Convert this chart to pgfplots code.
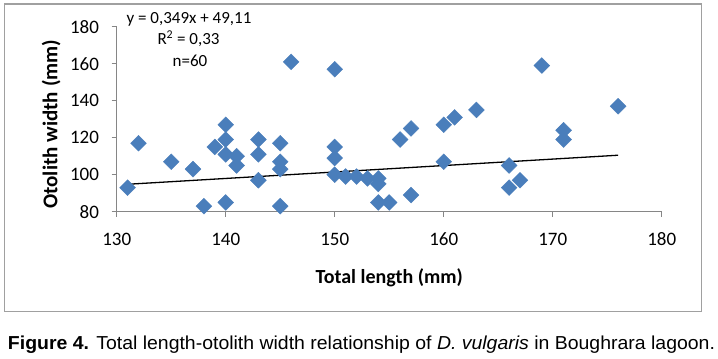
\documentclass[border=0pt]{standalone}
\usepackage{pgfplots}
\pgfplotsset{compat=1.18}
\usepackage{graphicx}
\usepackage{fontspec}
\setmainfont{Carlito}
\newfontfamily\capfont{Liberation Sans}
\definecolor{excelblue}{HTML}{4A7EBB}
\definecolor{axisgray}{HTML}{868686}
\definecolor{boxgray}{HTML}{A0A0A0}
\begin{document}
\begin{tikzpicture}[x=1bp,y=1bp]
\useasboundingbox (0,0) rectangle (718,358);
\fill[white] (0,0) rectangle (718,358);
\draw[boxgray, line width=1.2bp] (4.5,354) rectangle (701.5,46.5);
\begin{axis}[
  at={(116.7bp,146.3bp)}, anchor=south west,
  scale only axis, width=545bp, height=185bp,
  xmin=130, xmax=180, ymin=80, ymax=180,
  xtick={130,140,150,160,170,180}, ytick={80,100,120,140,160,180},
  axis x line*=bottom, axis y line*=left,
  axis line style={axisgray, line width=0.9bp, -},
  tick style={axisgray, line width=0.9bp},
  tick align=outside, major tick length=5bp,
  /pgf/number format/assume math mode=true,
  ticklabel style={font=\fontsize{19bp}{21bp}\selectfont, text=black, inner sep=0pt},
  xticklabel style={anchor=base, yshift=-29bp},
  yticklabel style={anchor=east, xshift=-12.5bp},
  xlabel={Total length (mm)},
  ylabel={Otolith width (mm)},
  xlabel style={at={(axis description cs:0.5,0)}, anchor=base, yshift=-71.3bp, inner sep=0pt, font=\fontsize{20bp}{22bp}\selectfont\bfseries},
  ylabel style={at={([xshift=-59.4bp,yshift=-5bp]axis description cs:0,0.5)}, rotate=0, anchor=base, inner sep=0pt, font=\fontsize{21bp}{23bp}\selectfont\bfseries},
]
\addplot[only marks, mark=square*, mark size=5.6bp, mark options={fill=excelblue, draw=excelblue, rotate=45}] coordinates {
(131,93) (132,117) (135,107) (137,103) (138,83) (139,115)
(140,127) (140,119) (140,111) (140,85) (141,110) (141,105)
(143,119) (143,111) (143,97) (145,117) (145,107) (145,103) (145,83)
(146,161) (150,157) (150,115) (150,109) (150,100) (151,99) (152,99)
(153,98) (154,98) (154,95) (154,85) (155,85) (156,119) (157,125) (157,89)
(160,107) (160,127) (161,131) (163,135) (166,105) (166,93) (167,97)
(169,159) (171,124) (171,119) (176,137)
};
\addplot[black, line width=1.3bp, no markers] coordinates {(131,94.83) (176,110.53)};
\end{axis}
\node[anchor=base, inner sep=0pt, font=\fontsize{17bp}{19bp}\selectfont] at (189,335) {y = 0,349x + 49,11};
\node[anchor=base, inner sep=0pt, font=\fontsize{17bp}{19bp}\selectfont] at (188.5,313.5) {R\textsuperscript{2} = 0,33};
\node[anchor=base, inner sep=0pt, font=\fontsize{17bp}{19bp}\selectfont] at (190,291.5) {n=60};
\node[anchor=base, inner sep=0pt] at (361.5,9) {\resizebox{707bp}{13.6bp}{\capfont\fontsize{20bp}{24bp}\selectfont\textbf{Figure 4.} Total length-otolith width relationship of \textit{D. vulgaris} in Boughrara lagoon.}};
\end{tikzpicture}
\end{document}
